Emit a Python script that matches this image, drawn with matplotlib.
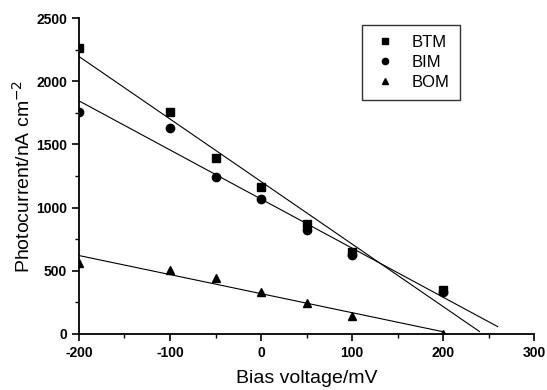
import numpy as np
import matplotlib
matplotlib.use('Agg')
import matplotlib.pyplot as plt
from matplotlib.ticker import MultipleLocator

plt.rcParams['font.family'] = ['Liberation Sans', 'DejaVu Sans']
plt.rcParams['axes.unicode_minus'] = False

bias = [-200, -100, -50, 0, 50, 100, 200]
btm = [2260, 1760, 1395, 1160, 870, 650, 350]
bim = [1760, 1630, 1245, 1065, 820, 625, 330]
bom = [560, 510, 440, 335, 245, 145, 0]

fig = plt.figure(figsize=(5.47, 3.90), dpi=100)
ax = fig.add_axes([0.1444, 0.1436, 0.832, 0.8102])

series = [
    ('BTM', btm, 's', 240),
    ('BIM', bim, 'o', 260),
    ('BOM', bom, '^', 200),
]
for name, vals, mk, xend in series:
    ax.plot(bias, vals, mk, color='black', markersize=6, linestyle='none', label=name)
    k, b = np.polyfit(bias, vals, 1)
    xs = np.array([-200, xend])
    ax.plot(xs, k * xs + b, color='black', linewidth=0.8)

ax.set_xlim(-200, 300)
ax.set_ylim(0, 2500)
ax.xaxis.set_major_locator(MultipleLocator(100))
ax.xaxis.set_minor_locator(MultipleLocator(50))
ax.yaxis.set_major_locator(MultipleLocator(500))
ax.yaxis.set_minor_locator(MultipleLocator(250))
for s in ['top', 'right']:
    ax.spines[s].set_visible(False)
for s in ['left', 'bottom']:
    ax.spines[s].set_linewidth(1.3)
ax.tick_params(which='major', length=5, width=1.2, labelsize=10)
ax.tick_params(which='minor', length=3, width=1.0)
for lbl in ax.get_xticklabels() + ax.get_yticklabels():
    lbl.set_fontweight('bold')

ax.set_xlabel('Bias voltage/mV', fontsize=14, labelpad=7)
ax.set_ylabel('Photocurrent/nA cm$^{-2}$', fontsize=14, labelpad=2)

leg = ax.legend(loc='upper left', bbox_to_anchor=(0.622, 0.978), frameon=True,
                fancybox=False, edgecolor='black', fontsize=12, handletextpad=0.8,
                borderpad=0.6, labelspacing=0.3, markerscale=0.75, handlelength=1.6,
                borderaxespad=0)
leg.get_frame().set_linewidth(1.0)

fig.savefig('out.png', dpi=100)
